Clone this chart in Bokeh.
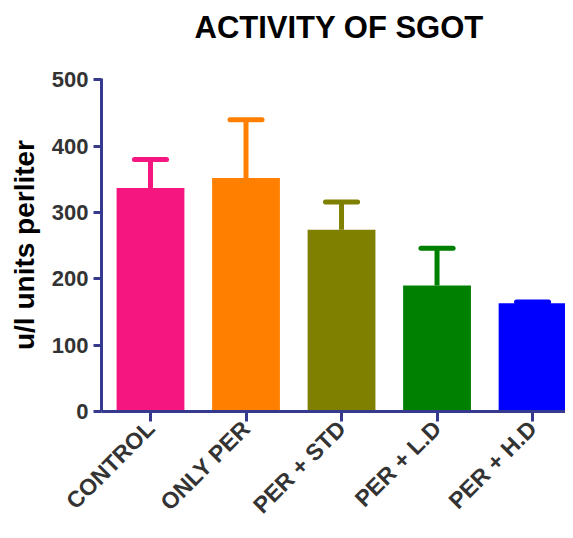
from bokeh.plotting import figure
from bokeh.models import Range1d, FixedTicker, ColumnDataSource, Title
from bokeh.embed import file_html
from bokeh.resources import INLINE

categories = ["CONTROL", "ONLY PER", "PER + STD", "PER + L.D", "PER + H.D"]
means = [337, 352, 274, 190, 163]
sem = [43, 88, 42, 56, 2]
colors = ["#F5177F", "#FF8000", "#808000", "#008000", "#0000FF"]
y_ticks = [0, 100, 200, 300, 400, 500]
title_text = "ACTIVITY OF SGOT"

AXIS = "#363A8E"
FONT = "Liberation Sans"

xs = list(range(len(categories)))
tops = [m + e for m, e in zip(means, sem)]
cap_half = 0.168

src = ColumnDataSource(dict(
    x=xs, top=means, color=colors, etop=tops,
    x0=[x - cap_half for x in xs], x1=[x + cap_half for x in xs],
))

p = figure(width=565, height=530, output_backend="svg", toolbar_location=None, title=None,
           x_range=Range1d(-0.513, 4.345), y_range=Range1d(0, 502),
           min_border_left=101, min_border_right=0, min_border_top=75, min_border_bottom=119)

p.vbar(x="x", top="top", bottom=0, width=0.71, fill_color="color", line_color=None, source=src)
p.segment(x0="x", y0="top", x1="x", y1="etop", line_color="color", line_width=5, source=src)
p.segment(x0="x0", y0="etop", x1="x1", y1="etop", line_color="color", line_width=5,
          line_cap="round", source=src)

# spacer between the frame and the title (added first = closest to the frame)
spacer = Title(text=" ", text_font_size="1px", standoff=20, text_color="white")
p.add_layout(spacer, "above")

main_title = Title(text=title_text, align="left", vertical_align="top", offset=93,
                   standoff=18, text_font=FONT, text_font_style="bold",
                   text_font_size="31px", text_color="#000000")
p.add_layout(main_title, "above")

p.grid.visible = False
p.outline_line_color = None
p.background_fill_color = "white"
p.border_fill_color = "white"

p.yaxis.ticker = FixedTicker(ticks=y_ticks)
p.xaxis.ticker = FixedTicker(ticks=xs)
p.xaxis.major_label_overrides = {i: c for i, c in enumerate(categories)}
p.xaxis.major_label_orientation = 0.785398

for ax in (p.xaxis, p.yaxis):
    ax.axis_line_color = AXIS
    ax.axis_line_width = 3
    ax.major_tick_line_color = AXIS
    ax.major_tick_line_width = 3
    ax.major_tick_in = 0
    ax.minor_tick_line_color = None
    ax.major_label_text_font = FONT
    ax.major_label_text_font_style = "bold"
    ax.major_label_text_color = "#333333"

p.yaxis.major_tick_out = 8
p.xaxis.major_tick_out = 10
p.yaxis.major_label_text_font_size = "22px"
p.xaxis.major_label_text_font_size = "23px"
p.yaxis.major_label_standoff = 5
p.xaxis.major_label_standoff = 3

p.yaxis.axis_label = "u/l units perliter"
p.yaxis.axis_label_text_font = FONT
p.yaxis.axis_label_text_font_style = "bold"
p.yaxis.axis_label_text_font_size = "28px"
p.yaxis.axis_label_text_color = "#000000"
p.yaxis.axis_label_standoff = 9

open("out.html", "w").write(file_html(p, INLINE))
